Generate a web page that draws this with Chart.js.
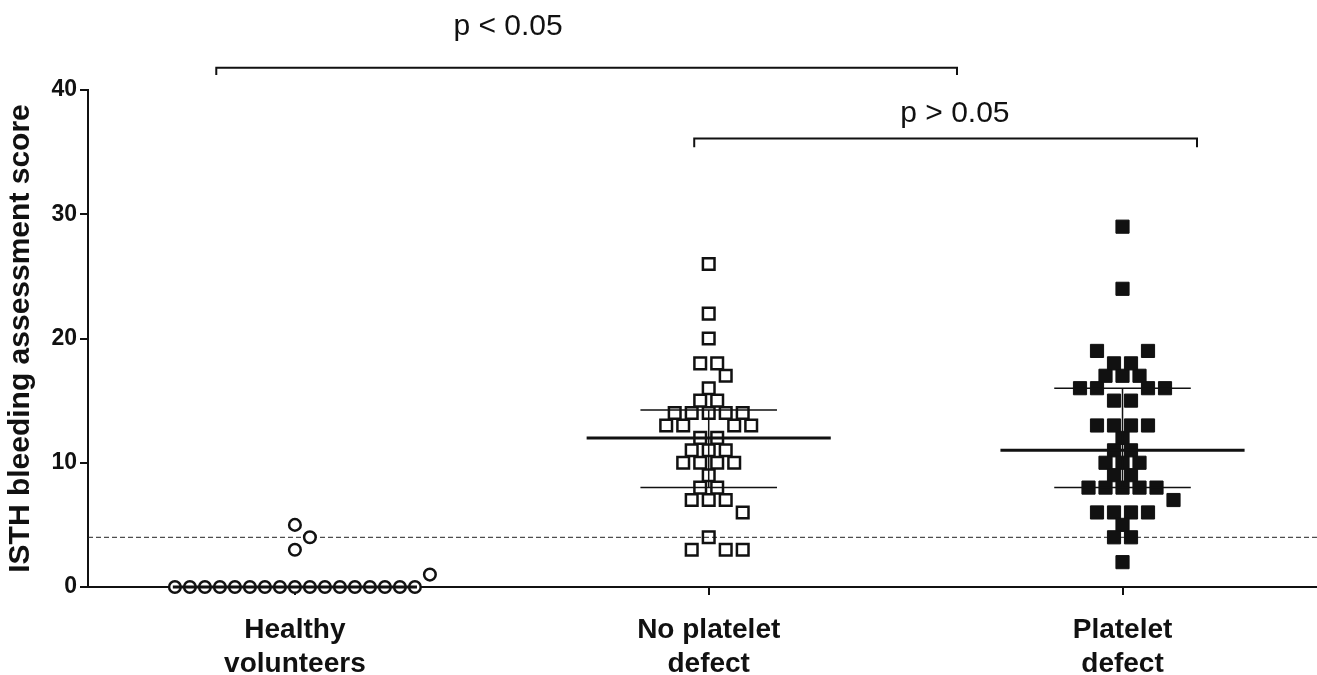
<!DOCTYPE html>
<html>
<head>
<meta charset="utf-8">
<script src="https://cdn.jsdelivr.net/npm/chart.js@4.4.1/dist/chart.umd.min.js"></script>
<style>
  html, body { margin: 0; padding: 0; background: #fff; }
  #wrap { width: 1317px; height: 675px; position: relative; }
</style>
</head>
<body>
<div id="wrap"><canvas id="scoreChart"></canvas></div>
<script>
// Daten
const categories = [["Healthy", "volunteers"], ["No platelet", "defect"], ["Platelet", "defect"]];
const categoryPos = [1, 2, 3];
const yTicks = [0, 10, 20, 30, 40];

const healthyScores = [0, 0, 0, 0, 0, 0, 0, 0, 0, 0, 0, 0, 0, 0, 0, 0, 0, 1, 3, 4, 5];
const noDefectScores = [26, 22, 20, 18, 18, 17, 16, 15, 15, 14, 14, 14, 14, 14, 13, 13, 13, 13,
  12, 12, 11, 11, 11, 10, 10, 10, 10, 9, 8, 8, 7, 7, 7, 6, 4, 3, 3, 3];
const plateletScores = [29, 24, 19, 19, 18, 18, 17, 17, 17, 16, 16, 16, 16, 15, 15, 13, 13, 13, 13,
  12, 11, 11, 10, 10, 10, 9, 9, 8, 8, 8, 8, 8, 7, 6, 6, 6, 6, 5, 4, 4, 2];

const medianScores = [0, 12, 11];
const q1Scores = [0, 8, 8];
const q3Scores = [0, 14.25, 16];
const cutoffScore = 4;

const brackets = [
  { from: 0.81, to: 2.60, y: 41.8, drop: 0.6, label: "p < 0.05", labelX: 1.515, labelY: 45.1 },
  { from: 1.965, to: 3.18, y: 36.1, drop: 0.7, label: "p > 0.05", labelX: 2.595, labelY: 38.1 }
];

// Layout
const W = 1317, H = 675;
const PLOT_LEFT = 88, PLOT_TOP = 90, PLOT_BOTTOM = 587;
const X_MIN = 0.5, X_MAX = 3.47, Y_MAX = 40;
const pxPerX = (W - PLOT_LEFT) / (X_MAX - X_MIN);
const pxPerY = (PLOT_BOTTOM - PLOT_TOP) / Y_MAX;
const FONT = "'Liberation Sans', Arial, Helvetica, sans-serif";

// einfacher Beeswarm: gleiche Werte nebeneinander, Kollisionen vermeiden
function swarm(values, center, median, step, minDist) {
  const counts = new Map();
  values.forEach(v => counts.set(v, (counts.get(v) || 0) + 1));
  const levels = [...counts.keys()].sort((a, b) =>
    Math.abs(a - median) - Math.abs(b - median) || b - a);
  const placed = [];
  levels.forEach(v => {
    const n = counts.get(v);
    const half = n % 2 === 0 ? 0.5 : 0;
    const cands = [];
    for (let k = 0; k < 60; k++) {
      const o = (k + half) * step;
      if (o === 0) cands.push(0); else cands.push(o, -o);
    }
    let done = 0;
    for (const o of cands) {
      if (done === n) break;
      const ok = placed.every(p => Math.hypot(p.dx - o, (p.v - v) * pxPerY) >= minDist);
      if (ok) { placed.push({ dx: o, v: v }); done++; }
    }
  });
  return placed.map(p => ({ x: center + p.dx / pxPerX, y: p.v }));
}

const overlay = {
  id: 'overlay',
  beforeDatasetsDraw(chart) {
    const { ctx, chartArea, scales: { y } } = chart;
    const py = y.getPixelForValue(cutoffScore);
    ctx.save();
    ctx.strokeStyle = '#222';
    ctx.lineWidth = 1;
    ctx.setLineDash([5, 3]);
    ctx.beginPath();
    ctx.moveTo(chartArea.left, py);
    ctx.lineTo(chartArea.right, py);
    ctx.stroke();
    ctx.restore();
  },
  afterDatasetsDraw(chart) {
    const { ctx, scales: { x, y } } = chart;
    ctx.save();
    ctx.strokeStyle = '#111';
    categoryPos.forEach((c, i) => {
      const xm0 = x.getPixelForValue(c - 0.295), xm1 = x.getPixelForValue(c + 0.295);
      const xw0 = x.getPixelForValue(c - 0.165), xw1 = x.getPixelForValue(c + 0.165);
      const xc = x.getPixelForValue(c);
      const ym = y.getPixelForValue(medianScores[i]);
      const y1 = y.getPixelForValue(q1Scores[i]);
      const y3 = y.getPixelForValue(q3Scores[i]);
      ctx.lineWidth = 1.5;
      ctx.beginPath();
      ctx.moveTo(xw0, y1); ctx.lineTo(xw1, y1);
      ctx.moveTo(xw0, y3); ctx.lineTo(xw1, y3);
      ctx.moveTo(xc, y1); ctx.lineTo(xc, y3);
      ctx.stroke();
      ctx.lineWidth = 3;
      ctx.beginPath();
      ctx.moveTo(xm0, ym); ctx.lineTo(xm1, ym);
      ctx.stroke();
    });
    ctx.restore();
  },
  afterDraw(chart) {
    const { ctx, scales: { x, y } } = chart;
    ctx.save();
    ctx.strokeStyle = '#111';
    ctx.fillStyle = '#111';
    ctx.lineWidth = 2;
    ctx.font = "30px " + FONT;
    ctx.textAlign = 'center';
    ctx.textBaseline = 'middle';
    brackets.forEach(b => {
      const x0 = x.getPixelForValue(b.from), x1 = x.getPixelForValue(b.to);
      const yb = y.getPixelForValue(b.y), yd = y.getPixelForValue(b.y - b.drop);
      ctx.beginPath();
      ctx.moveTo(x0, yd); ctx.lineTo(x0, yb); ctx.lineTo(x1, yb); ctx.lineTo(x1, yd);
      ctx.stroke();
      ctx.fillText(b.label, x.getPixelForValue(b.labelX), y.getPixelForValue(b.labelY));
    });
    ctx.restore();
  }
};

const ctx = document.getElementById('scoreChart').getContext('2d');
new Chart(ctx, {
  type: 'scatter',
  data: {
    datasets: [
      {
        label: 'Healthy volunteers',
        data: swarm(healthyScores, categoryPos[0], medianScores[0], 15, 14),
        pointStyle: 'circle',
        pointRadius: 5.8,
        pointBorderWidth: 2.5,
        borderColor: '#111',
        backgroundColor: '#fff',
        clip: false
      },
      {
        label: 'No platelet defect',
        data: swarm(noDefectScores, categoryPos[1], medianScores[1], 17, 14.5),
        pointStyle: 'rect',
        pointRadius: 8.2,
        pointBorderWidth: 2.5,
        borderColor: '#111',
        backgroundColor: 'rgba(255,255,255,0)',
        clip: false
      },
      {
        label: 'Platelet defect',
        data: swarm(plateletScores, categoryPos[2], medianScores[2], 17, 14.5),
        pointStyle: 'rect',
        pointRadius: 9.3,
        pointBorderWidth: 1,
        borderColor: '#111',
        backgroundColor: '#111',
        clip: false
      }
    ]
  },
  options: {
    responsive: true,
    maintainAspectRatio: false,
    animation: false,
    layout: { autoPadding: false, padding: { top: PLOT_TOP, right: 0, left: 0, bottom: 0 } },
    plugins: {
      legend: { display: false },
      tooltip: { enabled: false }
    },
    scales: {
      x: {
        type: 'linear',
        min: X_MIN,
        max: X_MAX,
        afterBuildTicks: s => { s.ticks = categoryPos.map(v => ({ value: v })); },
        afterFit: s => { s.height = H - PLOT_BOTTOM; },
        border: { display: true, color: '#111', width: 2 },
        grid: { display: true, drawOnChartArea: false, drawTicks: true, tickLength: 8, color: '#111', lineWidth: 2 },
        ticks: {
          autoSkip: false,
          maxRotation: 0,
          padding: 18,
          color: '#111',
          font: { family: FONT, size: 28, weight: 'bold', lineHeight: 1.22 },
          callback: v => categories[categoryPos.indexOf(v)] || ''
        }
      },
      y: {
        min: 0,
        max: Y_MAX,
        afterBuildTicks: s => { s.ticks = yTicks.map(v => ({ value: v })); },
        afterFit: s => { s.width = PLOT_LEFT; },
        border: { display: true, color: '#111', width: 2 },
        grid: { display: true, drawOnChartArea: false, drawTicks: true, tickLength: 8, color: '#111', lineWidth: 2 },
        ticks: {
          padding: 3,
          color: '#111',
          font: { family: FONT, size: 23, weight: 'bold' }
        },
        title: {
          display: true,
          text: 'ISTH bleeding assessment score',
          color: '#111',
          padding: { top: 3, bottom: 0 },
          font: { family: FONT, size: 30, weight: 'bold' }
        }
      }
    }
  },
  plugins: [overlay]
});
</script>
</body>
</html>
